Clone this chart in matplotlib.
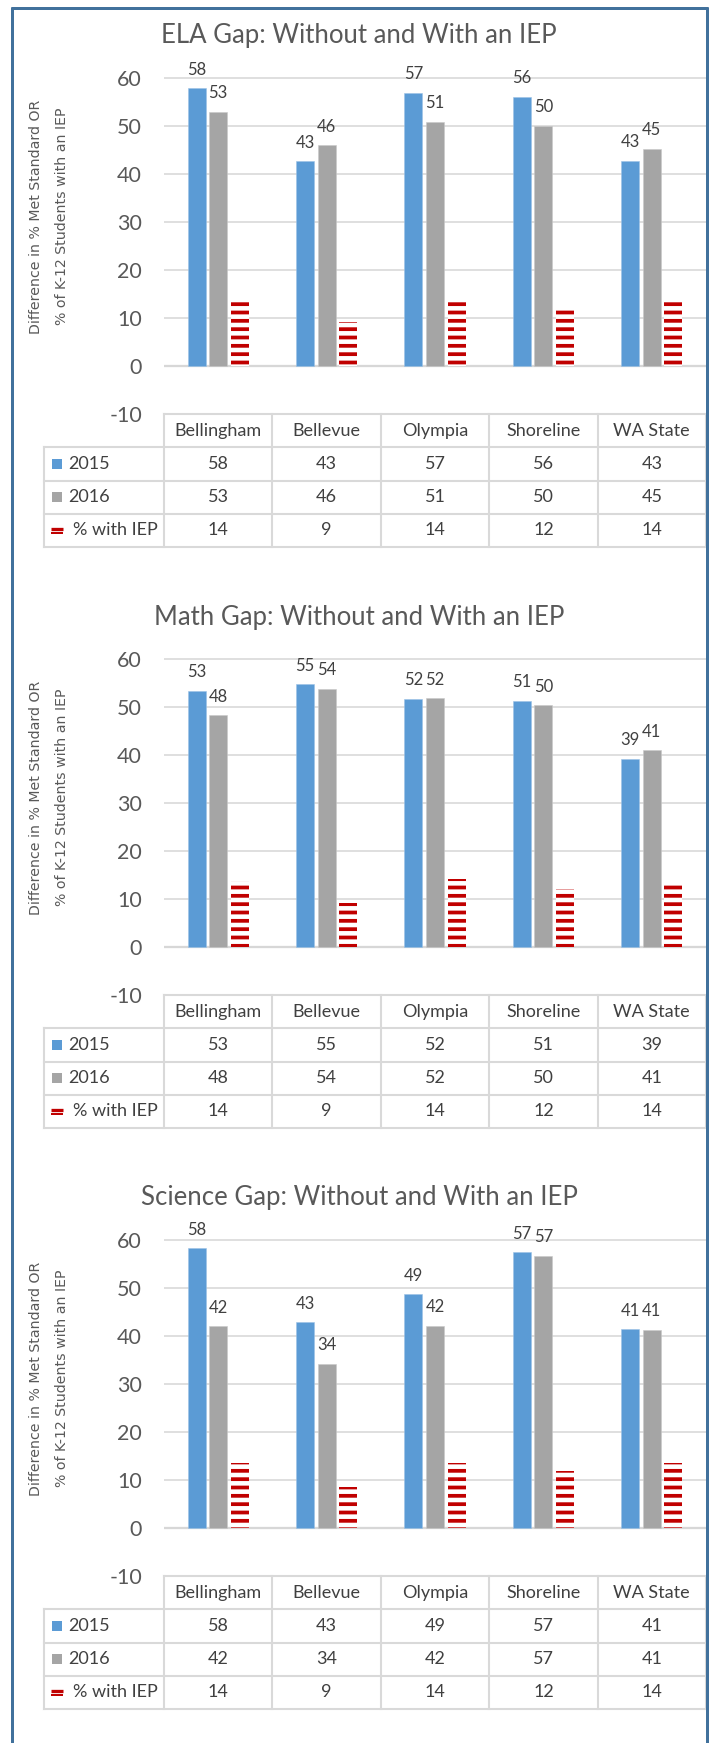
import matplotlib
matplotlib.use('Agg')
import matplotlib.pyplot as plt
from matplotlib.lines import Line2D
from matplotlib.patches import Rectangle

# ---------------- data ----------------
categories = ['Bellingham', 'Bellevue', 'Olympia', 'Shoreline', 'WA State']
series_names = ['2015', '2016', '% with IEP']
titles = ['ELA Gap: Without and With an IEP',
          'Math Gap: Without and With an IEP',
          'Science Gap: Without and With an IEP']
ylabel = 'Difference in % Met Standard OR\n% of K-12 Students with an IEP'

ela_2015 = [57.9, 42.7, 56.9, 56.1, 42.8]
ela_2016 = [53.0, 46.0, 50.9, 50.1, 45.3]
ela_iep = [13.6, 9.1, 14.1, 11.6, 13.6]

math_2015 = [53.4, 54.7, 51.7, 51.3, 39.2]
math_2016 = [48.3, 53.8, 51.8, 50.4, 41.0]
math_iep = [13.8, 9.2, 14.2, 12.0, 13.6]

sci_2015 = [58.3, 42.9, 48.7, 57.4, 41.4]
sci_2016 = [42.0, 34.2, 42.1, 56.7, 41.3]
sci_iep = [13.6, 8.6, 13.6, 11.8, 13.6]

yticks = [-10, 0, 10, 20, 30, 40, 50, 60]

# ---------------- style ----------------
W, H, DPI = 710, 1743, 100
C2015 = '#5B9BD5'
C2016 = '#A5A5A5'
CIEP = '#C00000'
GRID = '#D9D9D9'
TXT = '#595959'
TXT2 = '#404040'
BORDER = '#41719C'
PT = 0.72  # points per pixel at 100 dpi

plt.rcParams['font.family'] = ['Lato', 'DejaVu Sans']
plt.rcParams['hatch.linewidth'] = 2.7
plt.rcParams['axes.unicode_minus'] = False

fig = plt.figure(figsize=(W / DPI, H / DPI), dpi=DPI)
fig.patch.set_facecolor('white')


def fx(px):
    return px / W


def fy(py):
    return 1 - py / H


datasets = [
    (ela_2015, ela_2016, ela_iep),
    (math_2015, math_2016, math_iep),
    (sci_2015, sci_2016, sci_iep),
]

PLOT_L, PLOT_R = 164, 706
TAB_L = 44
YMIN, YMAX = -10, 62.5
PX_PER_UNIT = 4.8
ROW_H = 33.25
n = len(categories)
cat_w = (PLOT_R - PLOT_L) / n
bw = 0.166
xs = list(range(n))

for k, (s15, s16, siep) in enumerate(datasets):
    o = k * 581
    y_bottom = 414 + o
    y_top = y_bottom - (YMAX - YMIN) * PX_PER_UNIT
    ax = fig.add_axes([fx(PLOT_L), fy(y_bottom), fx(PLOT_R) - fx(PLOT_L),
                       fy(y_top) - fy(y_bottom)])
    ax.set_xlim(-0.5, n - 0.5)
    ax.set_ylim(YMIN, YMAX)
    for sp in ax.spines.values():
        sp.set_visible(False)
    ax.set_xticks([])
    ax.set_yticks(yticks)
    ax.tick_params(axis='y', length=0, pad=22 * PT, labelsize=15.5, labelcolor=TXT)
    ax.set_axisbelow(True)
    ax.yaxis.grid(True, color=GRID, lw=1.2)
    ax.axhline(0, color='#D0D0D0', lw=1.6, zorder=0.5)

    ax.bar([x - 0.2 for x in xs], s15, bw, color=C2015, edgecolor='#9DC3E6', linewidth=0.4, zorder=2)
    ax.bar(xs, s16, bw, color=C2016, edgecolor='#C9C9C9', linewidth=0.4, zorder=2)
    ax.bar([x + 0.2 for x in xs], siep, bw, color='white', edgecolor=CIEP,
           linewidth=0, hatch='--', zorder=2)

    for vals, dx in ((s15, -0.2), (s16, 0.0)):
        for x, v in zip(xs, vals):
            ax.annotate(f'{v:.0f}', xy=(x + dx, v), xytext=(0, 18.5 * PT),
                        textcoords='offset points', ha='center', va='center',
                        fontsize=12, color=TXT2, annotation_clip=False)

    # title
    fig.text(fx(359), fy(43.5 + o), titles[k], ha='center', va='baseline',
             fontsize=18.5, color=TXT)
    # y label
    fig.text(fx(49), fy(216.5 + o), ylabel, rotation=90, ha='center', va='center',
             multialignment='center', fontsize=10.2, color=TXT,
             family='DejaVu Sans', linespacing=2.0)

    # ---------- data table ----------
    t_top = 414 + o
    t_bot = t_top + 4 * ROW_H
    tab_left_units = -0.5 - (PLOT_L - TAB_L) / cat_w
    axt = fig.add_axes([fx(TAB_L), fy(t_bot), fx(PLOT_R) - fx(TAB_L),
                        fy(t_top) - fy(t_bot)])
    axt.set_xlim(tab_left_units, n - 0.5)
    axt.set_ylim(4, 0)
    axt.axis('off')

    def upx(px):
        return tab_left_units + (px - TAB_L) / cat_w

    lw_t = 1.5
    # header row frame
    axt.plot([-0.5, n - 0.5], [0, 0], color=GRID, lw=lw_t, clip_on=False)
    for r in range(1, 5):
        axt.plot([tab_left_units, n - 0.5], [r, r], color=GRID, lw=lw_t, clip_on=False)
    for c in range(n + 1):
        axt.plot([c - 0.5, c - 0.5], [0, 4], color=GRID, lw=lw_t, clip_on=False)
    axt.plot([tab_left_units, tab_left_units], [1, 4], color=GRID, lw=lw_t, clip_on=False)

    for x, name in zip(xs, categories):
        axt.text(x, 0.5, name, ha='center', va='center', fontsize=13, color=TXT2)

    rows = [s15, s16, siep]
    for r, (name, vals) in enumerate(zip(series_names, rows), start=1):
        yc = r + 0.5
        for x, v in zip(xs, vals):
            axt.text(x, yc, f'{v:.0f}', ha='center', va='center', fontsize=13, color=TXT2)
        if r < 3:
            axt.add_patch(Rectangle((upx(52), yc - 5 / ROW_H), upx(62) - upx(52), 10 / ROW_H,
                                    facecolor=[C2015, C2016][r - 1], edgecolor='none'))
            axt.text(upx(68), yc, name, ha='left', va='center', fontsize=13, color=TXT2)
        else:
            axt.plot([upx(51), upx(62.5)], [yc - 1.7 / ROW_H] * 2, color=CIEP, lw=3.3 * PT,
                     solid_capstyle='butt')
            axt.plot([upx(51), upx(62.5)], [yc + 2.7 / ROW_H] * 2, color=CIEP, lw=2.0 * PT,
                     solid_capstyle='butt')
            axt.text(upx(73), yc, name, ha='left', va='center', fontsize=13, color=TXT2)

# outer frame (left, right, top)
blw = 3 * PT
fig.add_artist(Line2D([fx(12), fx(12)], [fy(7), 0], transform=fig.transFigure,
                      color=BORDER, lw=blw, solid_capstyle='butt'))
fig.add_artist(Line2D([fx(706.5), fx(706.5)], [fy(7), 0], transform=fig.transFigure,
                      color=BORDER, lw=blw, solid_capstyle='butt'))
fig.add_artist(Line2D([fx(10.5), fx(708)], [fy(8), fy(8)], transform=fig.transFigure,
                      color=BORDER, lw=blw, solid_capstyle='butt'))

fig.savefig('out.png', dpi=DPI, facecolor='white')
